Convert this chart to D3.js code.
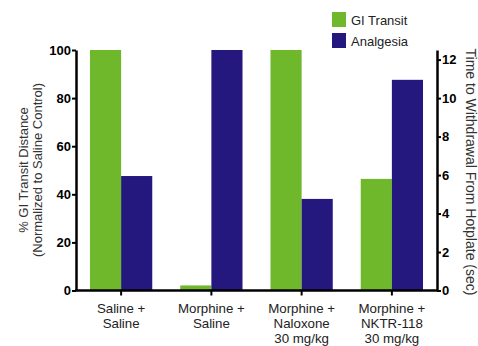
<!DOCTYPE html>
<html><head><meta charset="utf-8">
<script src="https://cdn.jsdelivr.net/npm/d3@7"></script>
<style>body{margin:0;background:#fff}svg{display:block;font-family:"Liberation Sans",Arial,sans-serif}</style>
</head><body>
<svg id="c" width="478" height="346"></svg>
<script>
const categories = [["Saline +","Saline"],["Morphine +","Saline"],["Morphine +","Naloxone","30 mg/kg"],["Morphine +","NKTR-118","30 mg/kg"]];
const giTransit = [100, 2.1, 100, 46.4];
const analgesia = [5.95, 12.5, 4.76, 10.95];
const leftTicks = [0,20,40,60,80,100];
const rightTicks = [0,2,4,6,8,10,12];
const seriesNames = ["GI Transit","Analgesia"];
const colors = ["#6fb72b","#24187f"];

const svg = d3.select("#c");
const x0 = 76, x1 = 437, yTop = 50, yBot = 290.5;
const x = d3.scaleBand().domain(d3.range(categories.length)).range([x0, x1]).paddingInner(0.31).paddingOuter(0.155);
const yL = d3.scaleLinear().domain([0,100]).range([yBot, yTop]);
const yR = d3.scaleLinear().domain([0,12.5]).range([yBot, yTop]);
const bw = x.bandwidth()/2;

svg.selectAll("rect.g").data(giTransit).join("rect")
  .attr("x",(d,i)=>x(i)).attr("width",bw)
  .attr("y",d=>yL(d)).attr("height",d=>yBot-yL(d)).attr("fill",colors[0]);
svg.selectAll("rect.a").data(analgesia).join("rect")
  .attr("x",(d,i)=>x(i)+bw).attr("width",bw)
  .attr("y",d=>yR(d)).attr("height",d=>yBot-yR(d)).attr("fill",colors[1]);

function styleAxis(g){
  g.selectAll(".domain").attr("stroke","#000").attr("stroke-width",2.5);
  g.selectAll(".tick line").attr("stroke","#000").attr("stroke-width",2);
  g.selectAll(".tick text").attr("fill","#000");
}
const gl = svg.append("g").attr("transform",`translate(${x0},0)`)
  .call(d3.axisLeft(yL).tickValues(leftTicks).tickSize(4).tickSizeOuter(0).tickPadding(1));
styleAxis(gl);
gl.selectAll(".tick text").attr("font-size",13).attr("font-weight","bold").attr("font-family","Liberation Sans, Arial, sans-serif");

const gr = svg.append("g").attr("transform",`translate(${x1},0)`)
  .call(d3.axisRight(yR).tickValues(rightTicks).tickSize(4).tickSizeOuter(0).tickPadding(1));
styleAxis(gr);
gr.selectAll(".tick text").attr("font-size",13).attr("font-weight","bold").attr("font-family","Liberation Sans, Arial, sans-serif");

const gx = svg.append("g").attr("transform",`translate(0,${yBot})`)
  .call(d3.axisBottom(x).tickSize(5).tickSizeOuter(0).tickFormat(""));
gx.selectAll(".tick").attr("transform",d=>`translate(${x(d)+x.bandwidth()/2},0)`);
styleAxis(gx);
gx.select(".domain").attr("d",`M${x0-1},0H${x1+1}`);

categories.forEach((lines,i)=>{
  const t = svg.append("text").attr("x",x(i)+x.bandwidth()/2).attr("y",313)
    .attr("text-anchor","middle").attr("font-size",13.3).attr("fill","#222");
  lines.forEach((l,j)=>t.append("tspan").attr("x",x(i)+x.bandwidth()/2).attr("dy",j?15:0).text(l));
});

const lt = svg.append("text").attr("transform","translate(28,170) rotate(-90)")
  .attr("text-anchor","middle").attr("font-size",13).attr("fill","#333");
lt.append("tspan").attr("x",0).attr("dy",0).text("% GI Transit Distance");
lt.append("tspan").attr("x",0).attr("dy",14).text("(Normalized to Saline Control)");

svg.append("text").attr("transform","translate(466,172) rotate(90)")
  .attr("text-anchor","middle").attr("font-size",14).attr("fill","#333")
  .text("Time to Withdrawal From Hotplate (sec)");

seriesNames.forEach((n,i)=>{
  svg.append("rect").attr("x",332).attr("y",12+i*21).attr("width",14).attr("height",15).attr("fill",colors[i]);
  svg.append("text").attr("x",351).attr("y",25+i*21).attr("font-size",13).attr("fill","#222").text(n);
});
</script>
</body></html>
